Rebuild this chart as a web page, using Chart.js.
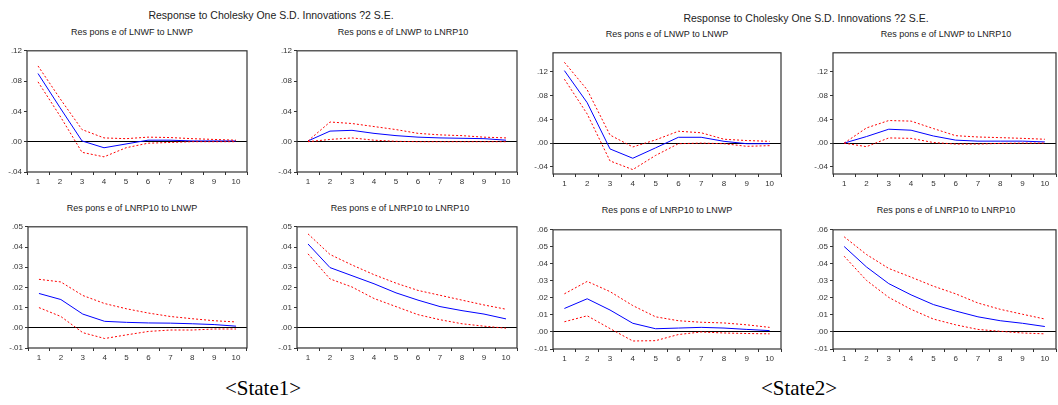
<!DOCTYPE html>
<html>
<head>
<meta charset="utf-8">
<script src="https://cdn.jsdelivr.net/npm/chart.js@4/dist/chart.umd.min.js"></script>
<style>
  body { margin: 0; background: #fff; width: 1058px; height: 405px; position: relative; overflow: hidden; }
  .box { position: absolute; }
  .txt { position: absolute; font-family: "Liberation Sans", Arial, sans-serif; color: #222; white-space: nowrap; transform: translate(-50%, -50%); }
  .main { font-size: 10.5px; }
  .sub { font-size: 9px; }
  .state { font-family: "Liberation Serif", "Times New Roman", serif; font-size: 21px; color: #000; }
</style>
</head>
<body>

<div class="txt main" style="left:271px; top:15px">Response to Cholesky One S.D. Innovations ?2 S.E.</div>
<div class="txt main" style="left:806px; top:18px">Response to Cholesky One S.D. Innovations ?2 S.E.</div>

<div class="txt sub" style="left:132px; top:32px">Res pons e of LNWF to LNWP</div>
<div class="txt sub" style="left:403px; top:32px">Res pons e of LNWP to LNRP10</div>
<div class="txt sub" style="left:132px; top:208px">Res pons e of LNRP10 to LNWP</div>
<div class="txt sub" style="left:400px; top:208px">Res pons e of LNRP10 to LNRP10</div>
<div class="txt sub" style="left:667px; top:34px">Res pons e of LNWP to LNWP</div>
<div class="txt sub" style="left:946px; top:34px">Res pons e of LNWP to LNRP10</div>
<div class="txt sub" style="left:667px; top:210px">Res pons e of LNRP10 to LNWP</div>
<div class="txt sub" style="left:946px; top:210px">Res pons e of LNRP10 to LNRP10</div>

<div class="txt state" style="left:263px; top:388px">&lt;State1&gt;</div>
<div class="txt state" style="left:799px; top:388px">&lt;State2&gt;</div>

<script>
const periods = ['1', '2', '3', '4', '5', '6', '7', '8', '9', '10']

// State 1
const s1WpWpMid = [0.090, 0.045, 0.001, -0.008, -0.003, 0.002, 0.002, 0.001, 0.001, 0.001]
const s1WpWpUp  = [0.100, 0.057, 0.016, 0.005, 0.004, 0.006, 0.0055, 0.004, 0.003, 0.002]
const s1WpWpLo  = [0.079, 0.034, -0.014, -0.020, -0.008, -0.002, -0.001, 0.000, 0.000, 0.000]

const s1WpRpMid = [0.001, 0.014, 0.015, 0.011, 0.008, 0.006, 0.005, 0.0045, 0.004, 0.002]
const s1WpRpUp  = [0.001, 0.026, 0.024, 0.020, 0.016, 0.011, 0.009, 0.008, 0.006, 0.005]
const s1WpRpLo  = [0.000, 0.003, 0.005, 0.002, 0.0005, 0.000, 0.000, 0.000, 0.000, 0.000]

const s1RpWpMid = [0.017, 0.014, 0.0068, 0.0032, 0.0027, 0.0024, 0.0023, 0.0020, 0.0016, 0.0008]
const s1RpWpUp  = [0.024, 0.0227, 0.016, 0.012, 0.0094, 0.0073, 0.0056, 0.0045, 0.0035, 0.0029]
const s1RpWpLo  = [0.010, 0.0056, -0.0024, -0.0053, -0.0035, -0.0018, -0.0011, -0.0011, -0.0006, -0.0006]

const s1RpRpMid = [0.0415, 0.0298, 0.0258, 0.0218, 0.0173, 0.0137, 0.0105, 0.0085, 0.0068, 0.0044]
const s1RpRpUp  = [0.0465, 0.0363, 0.0311, 0.0263, 0.0221, 0.0185, 0.0161, 0.0137, 0.0113, 0.0092]
const s1RpRpLo  = [0.0366, 0.0242, 0.0202, 0.0145, 0.0105, 0.0065, 0.0040, 0.0020, 0.0008, -0.0002]

// State 2
const s2WpWpMid = [0.122, 0.068, -0.0098, -0.0255, -0.008, 0.0098, 0.0098, 0.003, -0.001, -0.001]
const s2WpWpUp  = [0.136, 0.0897, 0.0136, -0.0065, 0.0054, 0.020, 0.0174, 0.0065, 0.0043, 0.003]
const s2WpWpLo  = [0.1076, 0.049, -0.030, -0.0446, -0.0207, -0.001, 0.000, -0.001, -0.0054, -0.0043]

const s2WpRpMid = [0.000, 0.011, 0.0234, 0.0217, 0.012, 0.005, 0.0033, 0.0033, 0.0033, 0.002]
const s2WpRpUp  = [0.000, 0.0255, 0.038, 0.037, 0.0245, 0.0125, 0.0103, 0.0092, 0.008, 0.0065]
const s2WpRpLo  = [0.000, -0.006, 0.0087, 0.008, 0.001, -0.0016, -0.0016, -0.0005, 0.000, 0.000]

const s2RpWpMid = [0.0138, 0.0195, 0.0129, 0.0051, 0.0019, 0.0023, 0.0027, 0.0023, 0.0015, 0.0008]
const s2RpWpUp  = [0.0224, 0.0297, 0.0237, 0.0155, 0.0089, 0.0066, 0.0057, 0.0053, 0.0042, 0.0027]
const s2RpWpLo  = [0.006, 0.0095, 0.0020, -0.0053, -0.0051, -0.0015, 0.000, -0.0006, -0.0009, -0.0011]

const s2RpRpMid = [0.0502, 0.0382, 0.0284, 0.0218, 0.0161, 0.0123, 0.0089, 0.0066, 0.0051, 0.0032]
const s2RpRpUp  = [0.0559, 0.0455, 0.0373, 0.0322, 0.0269, 0.0224, 0.0170, 0.0133, 0.0104, 0.0076]
const s2RpRpLo  = [0.0445, 0.0303, 0.0203, 0.0133, 0.0076, 0.0042, 0.0015, 0.0004, -0.0006, -0.0011]

const ticksTop = [-0.04, 0.00, 0.04, 0.08, 0.12]
const ticksBot1 = [-0.01, 0.00, 0.01, 0.02, 0.03, 0.04, 0.05]
const ticksBot2 = [-0.01, 0.00, 0.01, 0.02, 0.03, 0.04, 0.05, 0.06]

const PAD_L = 32, PAD_T = 4, PAD_R = 4, PAD_B = 20

const framePlugin = {
    id: 'frame',
    afterDraw(chart) {
        const a = chart.chartArea
        const ctx = chart.ctx
        ctx.save()
        ctx.strokeStyle = '#333'
        ctx.lineWidth = 1.2
        ctx.strokeRect(a.left, a.top, a.right - a.left, a.bottom - a.top)
        ctx.restore()
    }
}

function fmt(v) {
    let s = Math.abs(v).toFixed(2).replace(/^0/, '')
    return (v < -1e-9 ? '-' : '') + s
}

function makeChart(frame, mid, up, lo, yMin, yMax, yTicks) {
    const [L, T, R, B] = frame
    const div = document.createElement('div')
    div.className = 'box'
    div.style.left = (L - PAD_L) + 'px'
    div.style.top = (T - PAD_T) + 'px'
    div.style.width = (R - L + PAD_L + PAD_R) + 'px'
    div.style.height = (B - T + PAD_T + PAD_B) + 'px'
    const canvas = document.createElement('canvas')
    div.appendChild(canvas)
    document.body.appendChild(div)

    const band = (data) => ({
        data: data,
        borderColor: '#ff0000',
        borderWidth: 1,
        borderDash: [2, 2],
        pointRadius: 0,
        fill: false,
        tension: 0
    })

    new Chart(canvas.getContext('2d'), {
        type: 'line',
        data: {
            labels: periods,
            datasets: [
                band(up),
                band(lo),
                {
                    data: mid,
                    borderColor: '#0000ff',
                    borderWidth: 1,
                    pointRadius: 0,
                    fill: false,
                    tension: 0
                }
            ]
        },
        options: {
            responsive: true,
            maintainAspectRatio: false,
            animation: false,
            layout: { padding: { left: 0, top: PAD_T, right: PAD_R, bottom: 0 } },
            plugins: { legend: { display: false }, tooltip: { enabled: false } },
            scales: {
                x: {
                    offset: true,
                    grid: { offset: true, drawOnChartArea: false, tickLength: 3, tickColor: '#333', tickWidth: 1 },
                    border: { display: false },
                    ticks: {
                        color: '#333',
                        padding: 2,
                        maxRotation: 0,
                        autoSkip: false,
                        font: { family: 'Liberation Sans', size: 8 }
                    },
                    afterFit(scale) { scale.height = PAD_B }
                },
                y: {
                    min: yMin,
                    max: yMax,
                    afterBuildTicks(scale) { scale.ticks = yTicks.map(v => ({ value: v })) },
                    grid: {
                        color: ctx => (ctx.tick && Math.abs(ctx.tick.value) < 1e-9) ? '#000' : 'rgba(0,0,0,0)',
                        lineWidth: 1,
                        tickLength: 3,
                        tickColor: '#333'
                    },
                    border: { display: false },
                    ticks: {
                        color: '#333',
                        padding: 2,
                        font: { family: 'Liberation Sans', size: 8 },
                        callback: v => fmt(v)
                    },
                    afterFit(scale) { scale.width = PAD_L }
                }
            }
        },
        plugins: [framePlugin]
    })
}

makeChart([27, 48, 247, 172], s1WpWpMid, s1WpWpUp, s1WpWpLo, -0.04, 0.12, ticksTop)
makeChart([297, 48, 517, 172], s1WpRpMid, s1WpRpUp, s1WpRpLo, -0.04, 0.12, ticksTop)
makeChart([28, 224, 247, 348], s1RpWpMid, s1RpWpUp, s1RpWpLo, -0.01, 0.05, ticksBot1)
makeChart([297, 224, 517, 348], s1RpRpMid, s1RpRpUp, s1RpRpLo, -0.01, 0.05, ticksBot1)

makeChart([553, 50, 781, 174], s2WpWpMid, s2WpWpUp, s2WpWpLo, -0.052, 0.152, ticksTop)
makeChart([833, 50, 1056, 174], s2WpRpMid, s2WpRpUp, s2WpRpLo, -0.052, 0.152, ticksTop)
makeChart([553, 227, 781, 349], s2RpWpMid, s2RpWpUp, s2RpWpLo, -0.01, 0.06, ticksBot2)
makeChart([833, 227, 1056, 349], s2RpRpMid, s2RpRpUp, s2RpRpLo, -0.01, 0.06, ticksBot2)
</script>
</body>
</html>
